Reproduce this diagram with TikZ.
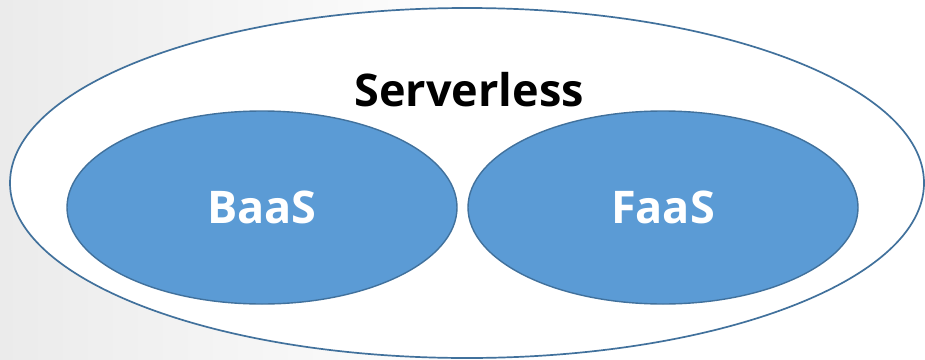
\documentclass[tikz,border=0pt]{standalone}
\usepackage{fontspec}
\setmainfont{Open Sans}
\usetikzlibrary{shapes.geometric}
\definecolor{bluefill}{HTML}{5B9BD5}
\definecolor{bluedraw}{HTML}{41719C}
\definecolor{bgl}{HTML}{EBEBEB}
\tikzset{
  inner/.style={ellipse, draw=bluedraw, line width=1.4pt, fill=bluefill,
    minimum width=390pt, minimum height=193pt, inner sep=0pt,
    text=white, font=\bfseries\fontsize{45}{50}\selectfont},
  outer/.style={ellipse, draw=bluedraw, line width=1.7pt, fill=white,
    minimum width=914pt, minimum height=350pt, inner sep=0pt},
  title/.style={text=black, font=\bfseries\fontsize{45}{52}\selectfont, inner sep=0pt}
}
\begin{document}
\begin{tikzpicture}[x=1pt,y=-1pt]
\useasboundingbox (0,0) rectangle (925,359);
\shade[left color=bgl, right color=white] (0,0) rectangle (500,359);
\node[outer] (srv) at (467,183) {};
\node[title] (t) at (469,90) {Serverless};
\node[inner] (baas) at (262,207.5) {BaaS};
\node[inner] (faas) at (663,207.5) {FaaS};
\end{tikzpicture}
\end{document}
